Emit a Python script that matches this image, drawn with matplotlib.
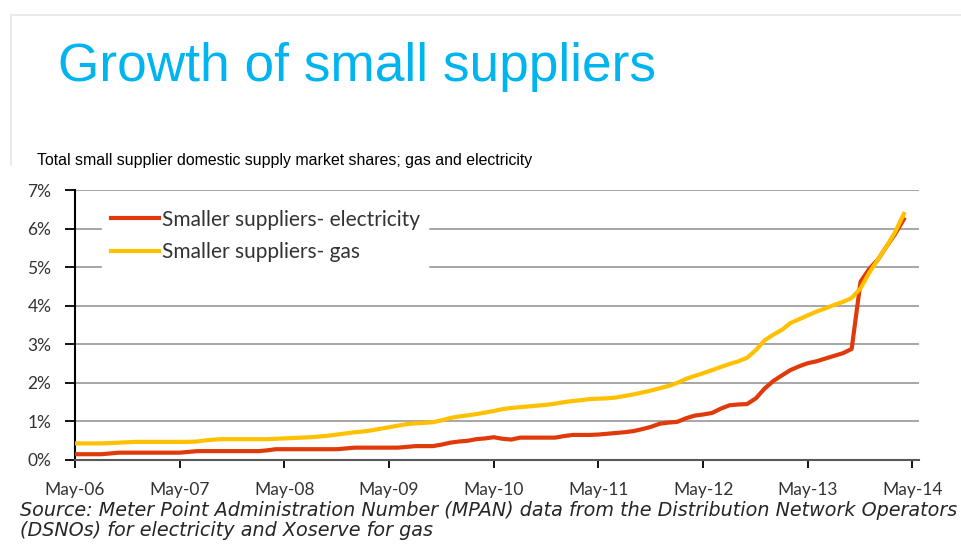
import numpy as np
import pandas as pd
import matplotlib.pyplot as plt
from matplotlib.lines import Line2D

# monthly values, May-06 to Apr-14 (% share)
months = pd.date_range("2006-05-01", periods=96, freq="MS")

electricity = [
    0.15, 0.15, 0.15, 0.15, 0.17, 0.19, 0.19, 0.19, 0.19, 0.19, 0.19, 0.19,
    0.19, 0.21, 0.23, 0.23, 0.23, 0.23, 0.23, 0.23, 0.23, 0.23, 0.25, 0.28,
    0.28, 0.28, 0.28, 0.28, 0.28, 0.28, 0.28, 0.30, 0.32, 0.32, 0.32, 0.32,
    0.32, 0.32, 0.34, 0.36, 0.36, 0.36, 0.40, 0.45, 0.48, 0.50, 0.54, 0.56,
    0.59, 0.55, 0.53, 0.58, 0.58, 0.58, 0.58, 0.58, 0.62, 0.65, 0.65, 0.65,
    0.66, 0.68, 0.70, 0.72, 0.75, 0.80, 0.86, 0.94, 0.97, 0.99, 1.08, 1.15,
    1.18, 1.22, 1.33, 1.42, 1.44, 1.45, 1.60, 1.85, 2.05, 2.20, 2.33, 2.43,
    2.51, 2.56, 2.63, 2.70, 2.77, 2.88, 4.62, 4.95, 5.20, 5.55, 5.85, 6.24,
]

gas = [
    0.43, 0.43, 0.43, 0.43, 0.44, 0.45, 0.46, 0.47, 0.47, 0.47, 0.47, 0.47,
    0.47, 0.47, 0.48, 0.51, 0.53, 0.54, 0.54, 0.54, 0.54, 0.54, 0.54, 0.55,
    0.56, 0.57, 0.58, 0.59, 0.61, 0.63, 0.66, 0.69, 0.72, 0.74, 0.77, 0.81,
    0.85, 0.89, 0.93, 0.95, 0.96, 0.98, 1.03, 1.09, 1.13, 1.16, 1.19, 1.23,
    1.27, 1.32, 1.35, 1.37, 1.39, 1.41, 1.43, 1.46, 1.50, 1.53, 1.55, 1.58,
    1.59, 1.60, 1.62, 1.66, 1.70, 1.75, 1.80, 1.86, 1.92, 2.00, 2.10, 2.18,
    2.25, 2.33, 2.41, 2.49, 2.56, 2.65, 2.85, 3.10, 3.25, 3.38, 3.55, 3.65,
    3.75, 3.85, 3.93, 4.02, 4.10, 4.20, 4.45, 4.85, 5.20, 5.55, 5.90, 6.38,
]

y_ticks = [0, 1, 2, 3, 4, 5, 6, 7]
x_tick_labels = ["May-06", "May-07", "May-08", "May-09", "May-10",
                 "May-11", "May-12", "May-13", "May-14"]

red = "#E03A0A"
gold = "#FFC000"
label_col = "#333333"

fig = plt.figure(figsize=(9.62, 5.47), dpi=100)

# slide frame
fig.add_artist(Line2D([11 / 962, 1], [1 - 15 / 547, 1 - 15 / 547], color="#e6e6e6", lw=1.2))
fig.add_artist(Line2D([11 / 962, 11 / 962], [1 - 15 / 547, 1 - 165 / 547], color="#e6e6e6", lw=1.2))

fig.text(58 / 962, 1 - 67 / 547, "Growth of small suppliers", fontsize=38.3,
         color="#00B4F0", family="Liberation Sans", va="center")
fig.text(37 / 962, 1 - 160 / 547,
         "Total small supplier domestic supply market shares; gas and electricity",
         fontsize=11.4, color="black", family="Liberation Sans", va="center")

ax = fig.add_axes([75 / 962, 1 - 460 / 547, 844 / 962, 270 / 547])

ax.plot(months, electricity, color=red, lw=3, label="Smaller suppliers- electricity", zorder=3)
ax.plot(months, gas, color=gold, lw=3, label="Smaller suppliers- gas", zorder=3)

tick_dates = pd.date_range("2006-05-01", periods=9, freq="12MS")
ax.set_xticks(tick_dates)
ax.set_xticklabels(x_tick_labels)
ax.set_xlim(months[0], pd.Timestamp("2014-05-24"))
ax.set_ylim(0, 7)
ax.set_yticks(y_ticks)
ax.set_yticklabels([f"{v}%" for v in y_ticks])

ax.grid(axis="y", color="#a6a6a6", lw=1.4)
ax.set_axisbelow(True)
for s in ["top", "right"]:
    ax.spines[s].set_visible(False)
ax.spines["left"].set_color("black")
ax.spines["left"].set_linewidth(1.5)
ax.spines["bottom"].set_color("#595959")
ax.spines["bottom"].set_linewidth(1.5)

ax.tick_params(axis="y", length=7, width=1.3, pad=10, labelsize=12.5, labelcolor=label_col)
ax.tick_params(axis="x", length=6, width=1.3, pad=10, labelsize=12.5, labelcolor=label_col)
for t in ax.get_xticklabels() + ax.get_yticklabels():
    t.set_family("Lato")

leg = ax.legend(loc="upper left", bbox_to_anchor=(0.02, 0.997), frameon=True,
                fancybox=False, edgecolor="white", framealpha=1,
                handlelength=2.3, handletextpad=0.15, labelspacing=0.6,
                prop={"family": "Lato", "size": 15})
for t in leg.get_texts():
    t.set_color(label_col)

fig.text(20 / 962, 1 - 511 / 547,
         "Source: Meter Point Administration Number (MPAN) data from the Distribution Network Operators",
         fontsize=13.8, style="italic", color="#262626", family="DejaVu Sans", va="center")
fig.text(20 / 962, 1 - 531 / 547,
         "(DSNOs) for electricity and Xoserve for gas",
         fontsize=13.8, style="italic", color="#262626", family="DejaVu Sans", va="center")

fig.savefig("out.png", dpi=100)
